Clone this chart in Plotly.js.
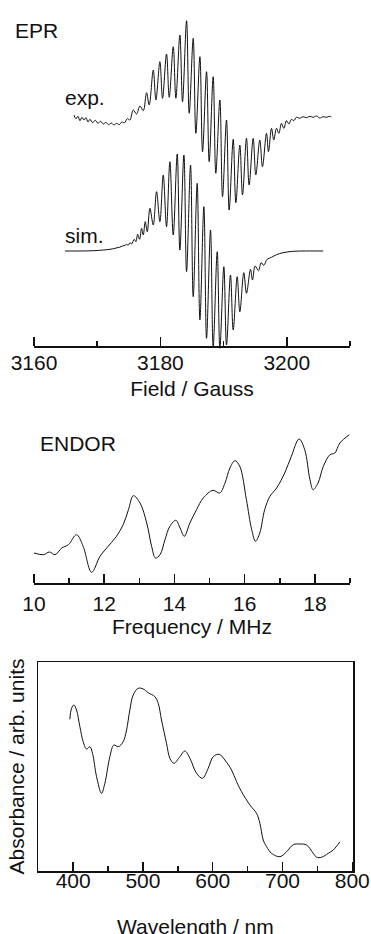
<!DOCTYPE html>
<html>
<head>
<meta charset="utf-8">
<script src="https://cdn.plot.ly/plotly-3.0.1.min.js"></script>
<style>
html,body{margin:0;padding:0;background:#fff;}
#chart{width:371px;height:934px;}
</style>
</head>
<body>
<div id="chart"></div>
<script>
// ---------- EPR (field in Gauss, signal in arbitrary units) ----------
const eprExpField = [3166.32,3166.64,3166.96,3167.27,3167.59,3167.91,3168.22,3168.54,3168.85,3169.28,3169.70,3170.12,3170.54,3170.96,3171.38,3171.81,3172.23,3172.65,3173.07,3173.49,3173.91,3174.33,3174.76,3175.18,3175.70,3176.23,3176.76,3177.29,3177.81,3178.23,3178.87,3179.29,3179.92,3180.34,3180.97,3181.40,3182.03,3182.45,3183.08,3183.50,3184.14,3184.56,3185.19,3185.61,3186.25,3186.67,3187.30,3187.72,3188.35,3188.77,3189.41,3189.83,3190.46,3190.88,3191.52,3191.94,3192.57,3192.99,3193.62,3194.04,3194.68,3195.10,3195.73,3196.15,3196.79,3197.10,3197.58,3197.94,3198.37,3198.74,3199.16,3199.53,3199.95,3200.32,3200.74,3201.11,3201.53,3202.06,3202.58,3203.11,3203.64,3204.16,3204.69,3205.22,3205.74,3206.27,3206.80,3207.06];
const eprExpSignal = [2.0,-1.7,0.7,-3.7,-0.3,-3.0,-0.7,-5.0,-2.3,-5.7,-3.3,-6.3,-4.3,-7.0,-5.3,-7.7,-6.0,-8.0,-6.3,-7.7,-5.0,-5.7,-1.7,-3.0,7.0,3.0,11.0,6.3,24.3,12.0,47.0,17.0,55.3,18.7,63.0,19.7,70.3,18.7,82.0,15.3,96.3,3.7,78.7,-16.3,60.3,-34.7,45.3,-44.7,40.3,-56.3,17.0,-79.7,-3.0,-93.0,-22.3,-85.7,-28.0,-78.0,-21.3,-68.0,-21.3,-58.0,-23.0,-49.7,-16.3,-34.7,-11.3,-23.0,-11.3,-16.3,-6.3,-11.3,-3.7,-7.0,-2.3,-3.7,-0.3,-1.3,0.3,-0.7,0.7,-0.3,1.0,-1.0,0.3,-0.3,0.7,0.0];

const eprSimField = [3164.90,3167.27,3169.38,3170.96,3172.02,3172.81,3173.49,3174.02,3174.39,3174.65,3174.91,3175.18,3175.44,3175.86,3176.13,3176.39,3176.71,3177.02,3177.29,3177.60,3177.92,3178.34,3178.87,3179.39,3179.92,3180.45,3180.97,3181.50,3182.03,3182.66,3183.08,3183.72,3184.14,3184.77,3185.19,3185.82,3186.25,3186.88,3187.30,3187.93,3188.35,3188.99,3189.41,3190.04,3190.46,3191.09,3191.52,3192.15,3192.57,3193.20,3193.62,3194.26,3194.57,3194.99,3195.52,3195.94,3196.36,3196.89,3197.58,3198.37,3199.42,3201.00,3203.11,3205.74];
const eprSimSignal = [0,0,0.3,1.0,1.7,2.7,3.7,5.0,5.7,6.7,5.7,8.3,7.0,11.7,9.3,16.7,11.7,22.7,16.0,29.3,19.3,42.7,26.0,59.3,29.3,76.0,24.3,89.3,16.0,97.0,1.0,96.0,-20.7,86.0,-45.7,67.7,-69.0,44.3,-87.3,21.0,-95.7,-0.7,-97.3,-15.7,-94.0,-24.0,-79.0,-25.7,-60.7,-21.7,-42.3,-18.3,-29.0,-15.0,-19.7,-11.7,-14.3,-8.3,-6.3,-3.7,-1.7,-0.3,0,0];
const eprTicks = [3160, 3180, 3200];
const eprMinorTicks = [3170, 3190, 3210];

// ---------- ENDOR (frequency in MHz) ----------
const endorFreq = [10.00,10.27,10.44,10.60,10.79,10.98,11.21,11.40,11.64,11.88,12.07,12.35,12.54,12.69,12.83,13.02,13.21,13.35,13.46,13.59,13.73,13.87,14.04,14.16,14.28,14.44,14.63,14.82,15.10,15.29,15.44,15.58,15.72,15.86,16.05,16.20,16.31,16.43,16.57,16.72,16.91,17.14,17.33,17.55,17.71,17.86,17.95,18.09,18.24,18.43,18.57,18.71,18.98];
const endorSignal = [30.0,28.3,31.0,28.3,35.0,38.3,48.3,36.7,10.7,26.7,35.0,46.7,58.3,73.3,87.3,80.0,60.0,36.7,25.0,28.3,43.3,56.7,62.7,55.0,46.7,60.0,73.3,85.0,92.7,90.0,100.0,115.0,122.3,116.7,83.3,53.3,41.7,50.0,73.3,86.7,95.0,110.0,126.7,144.0,133.3,103.3,93.3,100.0,116.7,128.3,130.0,140.0,148.3];
const endorTicks = [10, 12, 14, 16, 18];
const endorMinorTicks = [11, 13, 15, 17, 19];

// ---------- UV-vis absorbance (wavelength in nm) ----------
const uvWavelength = [395.2,397.6,401.0,404.8,409.6,414.3,419.1,423.9,427.7,433.5,440.6,445.4,452.6,458.3,464.5,471.7,476.5,481.2,486.0,493.2,500.4,507.5,517.1,521.9,526.6,533.8,538.6,544.3,552.9,560.1,567.3,576.8,585.4,593.5,600.7,609.3,617.4,627.0,634.2,641.3,653.3,662.8,667.6,672.4,677.2,684.3,696.3,705.9,715.4,725.0,734.5,744.1,748.9,756.0,765.6,772.8,782.3];
const uvAbsorbance = [151.7,162.7,166.0,161.0,144.3,129.3,122.0,124.3,117.7,94.3,77.7,87.7,114.3,126.0,124.3,129.3,141.0,161.0,176.0,182.7,182.0,178.3,174.3,167.7,151.0,127.7,112.7,107.7,114.3,120.0,112.7,97.7,92.7,102.7,114.3,116.7,111.0,101.0,89.3,79.3,66.0,57.7,47.7,31.0,24.3,17.7,14.3,19.3,26.3,27.0,26.0,17.7,13.7,13.7,17.7,21.0,29.3];
const uvTicks = [400, 500, 600, 700, 800];
const uvMinorTicks = [450, 550, 650, 750];

// ---------- drawing ----------
const W = 371, H = 934;
const FONT = 'Liberation Sans, Arial, Helvetica, sans-serif';
const INK = '#111';
const EXP_OFFSET = 229, SIM_OFFSET = 95;   // vertical stacking of the two EPR traces
const px = v => v / W;
const py = v => 1 - v / H;
const tfont = {family: FONT, size: 21, color: INK};
const lineStyle = {color: INK, width: 1, shape: 'spline', smoothing: 1};

// panel geometry (pixels)
const EPR_X = [34, 350], EPR_RANGE = [3160, 3210], EPR_AXIS_Y = 346;
const ENDOR_X = [34, 350], ENDOR_RANGE = [10, 19];
const UV_X = [38.3, 353.3], UV_RANGE = [350, 801.5];

// main axis: line + labels only
function mainAx(xPx, range, vals, opts) {
  return Object.assign({
    domain: [px(xPx[0]), px(xPx[1])], range: range,
    showline: true, linecolor: INK, linewidth: 1.5, ticks: '',
    showgrid: false, zeroline: false, fixedrange: true,
    tickmode: 'array', tickvals: vals, ticktext: vals.map(String),
    tickfont: tfont
  }, opts);
}
// tick-only axis, slightly wider so that end ticks are not clipped by plotly
const EXT = 4;
function tickAx(xPx, range, vals, len, opts) {
  const scale = (xPx[1] - xPx[0]) / (range[1] - range[0]);
  const dr = EXT / scale;
  return Object.assign({
    domain: [px(xPx[0] - EXT), px(xPx[1] + EXT)], range: [range[0] - dr, range[1] + dr],
    showline: false, ticks: 'inside', ticklen: len, tickwidth: 1.5, tickcolor: INK,
    showticklabels: false, showgrid: false, zeroline: false, fixedrange: true,
    tickmode: 'array', tickvals: vals
  }, opts);
}

const traces = [
  {x: eprExpField, y: eprExpSignal.map(v => v + EXP_OFFSET), xaxis: 'x', yaxis: 'y',
   mode: 'lines', line: lineStyle, hoverinfo: 'skip'},
  {x: eprSimField, y: eprSimSignal.map(v => v + SIM_OFFSET), xaxis: 'x', yaxis: 'y',
   mode: 'lines', line: lineStyle, hoverinfo: 'skip'},
  {x: endorFreq, y: endorSignal, xaxis: 'x2', yaxis: 'y2',
   mode: 'lines', line: lineStyle, hoverinfo: 'skip'},
  {x: uvWavelength, y: uvAbsorbance, xaxis: 'x3', yaxis: 'y3',
   mode: 'lines', line: lineStyle, hoverinfo: 'skip'}
];
// empty carriers so the tick-only axes are drawn
[['x4','y'],['x5','y'],['x6','y2'],['x7','y2'],['x8','y3'],['x9','y3']].forEach(([xa, ya]) =>
  traces.push({x: [], y: [], xaxis: xa, yaxis: ya, mode: 'lines', hoverinfo: 'skip', showlegend: false}));

const eprFree = {anchor: 'free', position: py(EPR_AXIS_Y)};

const layout = {
  width: W, height: H,
  margin: {l: 0, r: 0, t: 0, b: 0},
  paper_bgcolor: '#fff', plot_bgcolor: 'rgba(0,0,0,0)',
  showlegend: false,
  font: tfont,

  xaxis: mainAx(EPR_X, EPR_RANGE, eprTicks, Object.assign({ticklabelstandoff: -3,
    title: {text: 'Field / Gauss', font: tfont, standoff: 8}}, eprFree)),
  xaxis4: tickAx(EPR_X, EPR_RANGE, eprTicks, 9, eprFree),
  xaxis5: tickAx(EPR_X, EPR_RANGE, eprMinorTicks, 5, eprFree),
  yaxis: {domain: [py(360), 1], range: [-14, 346], visible: false, fixedrange: true},

  xaxis2: mainAx(ENDOR_X, ENDOR_RANGE, endorTicks, {anchor: 'y2', ticklabelstandoff: 1,
    title: {text: 'Frequency / MHz', font: tfont, standoff: 5}}),
  xaxis6: tickAx(ENDOR_X, ENDOR_RANGE, endorTicks, 9, {anchor: 'y2'}),
  xaxis7: tickAx(ENDOR_X, ENDOR_RANGE, endorMinorTicks, 5, {anchor: 'y2'}),
  yaxis2: {domain: [py(583), py(400)], range: [0, 183], visible: false, fixedrange: true},

  // the x title of this panel sits partly below the page edge (as in the original),
  // so it is placed as an annotation instead of an axis title that plotly would pull back in
  xaxis3: mainAx(UV_X, UV_RANGE, uvTicks, {anchor: 'y3', mirror: true, ticklabelstandoff: -10}),
  xaxis8: tickAx(UV_X, UV_RANGE, uvTicks, 9, {anchor: 'y3'}),
  xaxis9: tickAx(UV_X, UV_RANGE, uvMinorTicks, 5, {anchor: 'y3'}),
  yaxis3: {domain: [py(871), py(662)], range: [0, 209], anchor: 'x3',
    showline: true, mirror: true, linecolor: INK, linewidth: 1.5,
    ticks: '', showticklabels: false, showgrid: false, zeroline: false, fixedrange: true,
    title: {text: 'Absorbance / arb. units', font: tfont, standoff: 6}},

  annotations: [
    {text: 'EPR', xref: 'paper', yref: 'paper', x: px(13), y: py(30), xanchor: 'left', yanchor: 'middle', showarrow: false, font: tfont},
    {text: 'exp.', xref: 'paper', yref: 'paper', x: px(63), y: py(97), xanchor: 'left', yanchor: 'middle', showarrow: false, font: tfont},
    {text: 'sim.', xref: 'paper', yref: 'paper', x: px(63), y: py(235), xanchor: 'left', yanchor: 'middle', showarrow: false, font: tfont},
    {text: 'ENDOR', xref: 'paper', yref: 'paper', x: px(38), y: py(443), xanchor: 'left', yanchor: 'middle', showarrow: false, font: tfont},
    {text: 'Wavelength / nm', xref: 'paper', yref: 'paper', x: px((UV_X[0] + UV_X[1]) / 2), y: py(926),
     xanchor: 'center', yanchor: 'middle', showarrow: false, font: tfont}
  ]
};

Plotly.newPlot('chart', traces, layout, {staticPlot: true, displayModeBar: false});
</script>
</body>
</html>
